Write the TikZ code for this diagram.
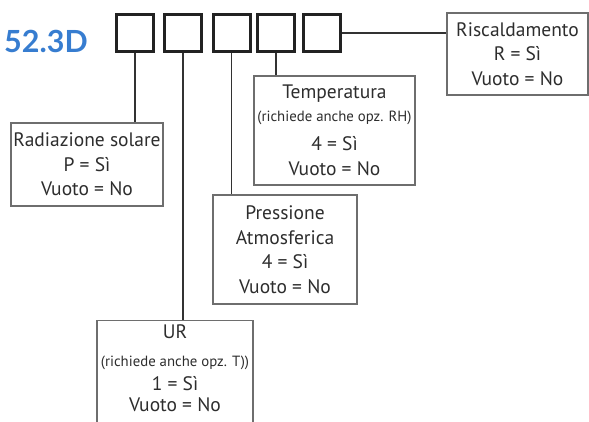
\documentclass[tikz,border=0pt]{standalone}
\usepackage{fontspec}
\setmainfont{PT Sans}
\newfontfamily\titlefont{Lato}
\definecolor{titleblue}{RGB}{55,125,208}
\definecolor{sqcol}{RGB}{34,34,34}
\definecolor{boxcol}{RGB}{110,110,110}
\definecolor{linecol}{RGB}{50,50,50}
\definecolor{txtcol}{RGB}{45,45,45}
\newcommand{\smalltxt}[1]{{\fontsize{14.8}{15}\selectfont #1}}
\begin{document}
\begin{tikzpicture}[x=1pt,y=-1pt,
  sq/.style={draw=sqcol,line width=3pt,minimum size=37pt,inner sep=0pt},
  infobox/.style={draw=boxcol,line width=1.1pt,inner sep=0pt,align=center,
    font=\fontsize{19.5}{24.5}\selectfont,text=txtcol},
  conn/.style={draw=linecol,line width=1.6pt}]
\useasboundingbox (0,0) rectangle (589,421);
\clip (0,0) rectangle (589,421);
\node[anchor=west,text=titleblue,font=\titlefont\bfseries\fontsize{30.5}{31}\selectfont,inner sep=0pt] (title) at (4,41) {52.3D};
\node[sq] (s1) at (135,33) {};
\node[sq] (s2) at (183,33) {};
\node[sq] (s3) at (231.5,33) {};
\node[sq] (s4) at (276,33) {};
\node[sq] (s5) at (322,33) {};
\node[infobox,minimum width=152pt,minimum height=83pt] (rad) at (87,164.5)
  {Radiazione solare\\P = Sì\\Vuoto = No};
\node[infobox,minimum width=161pt,minimum height=109pt] (temp) at (334.5,130.5)
  {Temperatura\\[-1.5pt]\smalltxt{(richiede anche opz. RH)}\\[4.5pt]4 = Sì\\Vuoto = No};
\node[infobox,minimum width=144pt,minimum height=109pt] (press) at (285,249.5)
  {Pressione\\Atmosferica\\4 = Sì\\Vuoto = No};
\node[infobox,minimum width=141pt,minimum height=82pt] (risc) at (517.5,54)
  {Riscaldamento\\R = Sì\\Vuoto = No};
\node[draw=boxcol,line width=1.1pt,minimum width=156pt,minimum height=130pt,anchor=north] (ur) at (175,320) {};
\node[align=center,anchor=north,inner sep=0pt,font=\fontsize{19.5}{24.5}\selectfont,text=txtcol] (urtext) at (175,324)
  {UR\\[3.5pt]\smalltxt{(richiede anche opz. T))}\\[-0.5pt]1 = Sì\\[-3.5pt]Vuoto = No};
\draw[conn] (s1.south) -- (s1.south |- rad.north);
\draw[conn] (s2.south) -- (s2.south |- ur.north);
\draw[conn] (s3.south) -- (s3.south |- press.north);
\draw[conn] (s4.south) -- (s4.south |- temp.north);
\draw[conn] (s5.east) -- (s5.east -| risc.west);
\end{tikzpicture}
\end{document}
